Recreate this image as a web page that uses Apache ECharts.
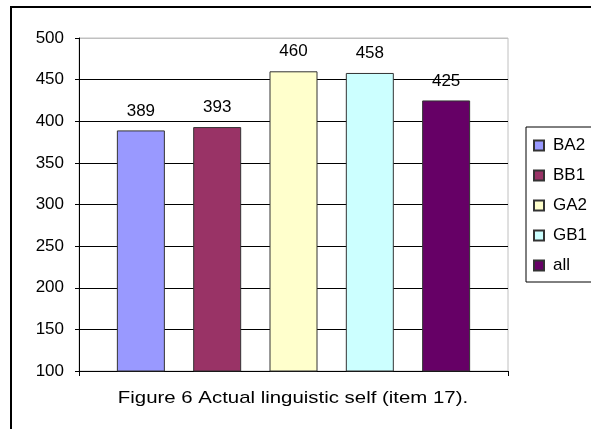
<!DOCTYPE html>
<html><head><meta charset="utf-8">
<script src="https://cdn.jsdelivr.net/npm/echarts@6/dist/echarts.min.js"></script>
<style>html,body{margin:0;padding:0;background:#fff}#c{width:591px;height:429px}</style>
</head><body><div id="c"></div>
<script>
var seriesNames = ['BA2', 'BB1', 'GA2', 'GB1', 'all'];
var seriesValues = [389, 393, 460, 458, 425];
var seriesColors = ['#9999FF', '#993366', '#FFFFCC', '#CCFFFF', '#660066'];
var categories = [''];
var yTicks = {min: 100, max: 500, interval: 50};
var caption = 'Figure 6 Actual linguistic self (item 17).';

var FONT = '"Liberation Sans", Arial, sans-serif';
var chart = echarts.init(document.getElementById('c'), null, {renderer: 'canvas'});
var splitColors = [];
for (var v = yTicks.min; v <= yTicks.max; v += yTicks.interval) splitColors.push(v === yTicks.max ? '#c0c0c0' : '#000');

var series = seriesNames.map(function (n, i) {
  return {
    name: n, type: 'bar', data: [seriesValues[i]],
    barWidth: 48, barGap: '59%',
    itemStyle: {color: seriesColors[i], borderColor: '#333', borderWidth: 1},
    label: {show: true, position: 'top', distance: 11, color: '#000', fontSize: 17, fontFamily: FONT},
    animation: false
  };
});

chart.setOption({
  animation: false,
  textStyle: {fontFamily: FONT},
  grid: {left: 79, top: 38, right: 83, bottom: 58, show: true, borderColor: '#c0c0c0', borderWidth: 1, containLabel: false},
  xAxis: {
    type: 'category', data: categories,
    axisLine: {lineStyle: {color: '#000', width: 1}},
    axisTick: {show: true, length: 5, lineStyle: {color: '#000'}},
    axisLabel: {show: false}
  },
  yAxis: {
    type: 'value', min: yTicks.min, max: yTicks.max, interval: yTicks.interval,
    axisLine: {show: true, lineStyle: {color: '#000', width: 1}},
    axisTick: {show: true, length: 4, lineStyle: {color: '#000'}},
    axisLabel: {color: '#000', fontSize: 17, fontFamily: FONT, margin: 15},
    splitLine: {show: true, lineStyle: {color: splitColors, width: 1}}
  },
  legend: {
    orient: 'vertical', left: 526, top: 127,
    data: seriesNames,
    itemWidth: 10, itemHeight: 10, itemGap: 13,
    padding: [10, 10, 8, 7],
    borderColor: '#000', borderWidth: 1,
    icon: 'rect',
    textStyle: {color: '#000', fontSize: 17, fontFamily: FONT, padding: [0, 0, 0, 4]}
  },
  graphic: [
    {type: 'rect', shape: {x: 11, y: 7, width: 700, height: 600}, style: {fill: 'none', stroke: '#000', lineWidth: 2}, silent: true, z: -1},
    {type: 'text', x: 293, y: 398, scaleX: 1.2, style: {text: caption, fill: '#000', font: '17px ' + FONT, textAlign: 'center', textVerticalAlign: 'middle'}}
  ],
  series: series
});
</script></body></html>
